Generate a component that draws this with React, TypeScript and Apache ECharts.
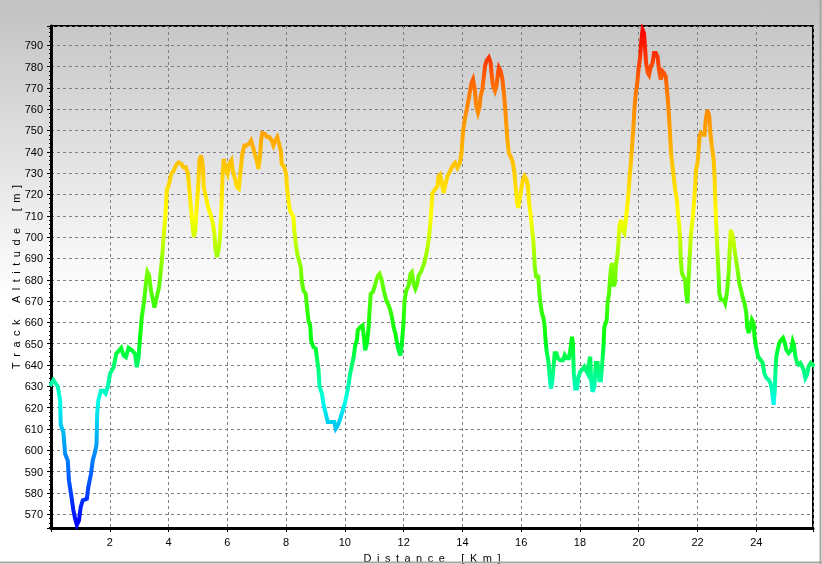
import React, { useEffect, useRef } from "react";
import * as echarts from "echarts";

const distanceKm = [
  0.0, 0.08, 0.23, 0.31, 0.33, 0.42, 0.48, 0.57, 0.61, 0.68, 0.76, 0.82, 0.88, 0.95, 1.01, 1.08, 1.22, 1.27, 1.36, 1.42,
  1.5, 1.55, 1.57, 1.61, 1.7, 1.78, 1.86, 1.93, 2.01, 2.13, 2.22, 2.32, 2.39, 2.47, 2.55, 2.64, 2.75, 2.86, 2.92, 2.98,
  3.03, 3.09, 3.17, 3.24, 3.28, 3.34, 3.4, 3.47, 3.52, 3.6, 3.68, 3.75, 3.8, 3.84, 3.89, 3.94, 4.02, 4.09, 4.17, 4.25,
  4.34, 4.43, 4.51, 4.59, 4.66, 4.72, 4.77, 4.82, 4.86, 4.91, 4.95, 5.0, 5.05, 5.11, 5.17, 5.2, 5.27, 5.36, 5.44, 5.51,
  5.56, 5.59, 5.65, 5.7, 5.75, 5.8, 5.84, 5.88, 5.93, 6.01, 6.07, 6.14, 6.19, 6.25, 6.33, 6.39, 6.43, 6.51, 6.58, 6.66,
  6.74, 6.81, 6.86, 6.92, 7.0, 7.06, 7.11, 7.15, 7.19, 7.28, 7.35, 7.43, 7.51, 7.57, 7.63, 7.7, 7.76, 7.82, 7.85, 7.94,
  8.0, 8.03, 8.08, 8.13, 8.19, 8.25, 8.28, 8.33, 8.38, 8.44, 8.5, 8.53, 8.59, 8.67, 8.7, 8.76, 8.82, 8.85, 8.93, 9.01,
  9.06, 9.1, 9.14, 9.22, 9.27, 9.35, 9.42, 9.53, 9.64, 9.69, 9.76, 9.84, 9.93, 10.01, 10.07, 10.13, 10.18, 10.24, 10.3, 10.35,
  10.41, 10.44, 10.52, 10.6, 10.65, 10.69, 10.75, 10.81, 10.84, 10.88, 10.95, 11.01, 11.07, 11.13, 11.18, 11.24, 11.3, 11.35, 11.41, 11.49,
  11.55, 11.6, 11.66, 11.72, 11.77, 11.83, 11.89, 11.94, 12.0, 12.03, 12.09, 12.17, 12.23, 12.28, 12.34, 12.4, 12.46, 12.51, 12.6, 12.68,
  12.74, 12.8, 12.85, 12.9, 12.95, 12.98, 13.07, 13.15, 13.19, 13.24, 13.3, 13.36, 13.41, 13.49, 13.58, 13.66, 13.75, 13.83, 13.91, 13.97,
  14.0, 14.03, 14.09, 14.15, 14.2, 14.25, 14.31, 14.36, 14.42, 14.47, 14.53, 14.59, 14.62, 14.68, 14.73, 14.77, 14.82, 14.9, 14.96, 14.99,
  15.04, 15.11, 15.16, 15.21, 15.24, 15.3, 15.36, 15.41, 15.45, 15.49, 15.53, 15.58, 15.66, 15.72, 15.77, 15.82, 15.86, 15.9, 15.95, 16.0,
  16.06, 16.11, 16.18, 16.23, 16.26, 16.3, 16.34, 16.37, 16.41, 16.44, 16.46, 16.51, 16.58, 16.62, 16.67, 16.71, 16.77, 16.8, 16.82, 16.86,
  16.92, 16.96, 17.01, 17.05, 17.1, 17.14, 17.2, 17.25, 17.33, 17.42, 17.48, 17.54, 17.62, 17.67, 17.73, 17.76, 17.79, 17.84, 17.9, 17.95,
  18.01, 18.07, 18.15, 18.2, 18.26, 18.32, 18.35, 18.38, 18.43, 18.49, 18.54, 18.6, 18.66, 18.71, 18.75, 18.8, 18.83, 18.91, 18.94, 18.99,
  19.02, 19.06, 19.1, 19.14, 19.19, 19.22, 19.27, 19.31, 19.34, 19.4, 19.44, 19.51, 19.56, 19.61, 19.65, 19.69, 19.74, 19.78, 19.82, 19.85,
  19.9, 19.95, 19.99, 20.05, 20.08, 20.13, 20.18, 20.22, 20.25, 20.31, 20.35, 20.41, 20.47, 20.52, 20.58, 20.64, 20.69, 20.75, 20.81, 20.86,
  20.92, 20.95, 20.99, 21.03, 21.07, 21.1, 21.15, 21.19, 21.24, 21.3, 21.33, 21.38, 21.41, 21.43, 21.47, 21.52, 21.58, 21.61, 21.66, 21.69,
  21.73, 21.77, 21.83, 21.88, 21.92, 21.95, 22.0, 22.03, 22.07, 22.11, 22.17, 22.24, 22.28, 22.34, 22.4, 22.44, 22.49, 22.55, 22.58, 22.6,
  22.63, 22.66, 22.69, 22.72, 22.74, 22.8, 22.89, 22.94, 23.0, 23.06, 23.09, 23.13, 23.17, 23.22, 23.26, 23.31, 23.38, 23.42, 23.48, 23.53,
  23.6, 23.66, 23.69, 23.74, 23.8, 23.85, 23.91, 23.94, 23.99, 24.06, 24.14, 24.22, 24.27, 24.34, 24.42, 24.48, 24.53, 24.59, 24.63, 24.65,
  24.68, 24.73, 24.78, 24.85, 24.91, 24.97, 25.02, 25.1, 25.19, 25.24, 25.28, 25.33, 25.39, 25.44, 25.5, 25.56, 25.61, 25.67, 25.73, 25.78,
  25.85, 25.93,
];

const altitudeM = [
  631, 633, 630, 623.5, 612, 608.6, 598.4, 595.3, 586, 579.7, 572, 568, 565, 567, 573.4, 576.6, 577.3, 582.8, 589, 595.3,
  599.2, 603, 617, 623.4, 628, 628, 626.6, 629.7, 636, 639, 645.3, 646.9, 648, 644.5, 643.7, 648, 647, 645.3, 639, 643.7,
  653, 662.5, 670.3, 679.7, 683.6, 682, 675, 670.3, 667, 672, 676.6, 686, 693.8, 701.6, 709.4, 722, 725, 729.7, 731, 733.6,
  735, 734.4, 732.8, 732.8, 729.7, 720.3, 712.5, 704.7, 700, 703, 712.5, 721.9, 736, 738.3, 732.8, 723.4, 718.8, 713.3, 710.2, 706.3,
  701.6, 695.3, 690.6, 693.8, 700, 714, 729.7, 736.7, 732.8, 729.7, 734.4, 736, 731, 728, 723.4, 722.7, 728, 739, 743, 743,
  743.8, 745.3, 743, 739.8, 736, 732, 737.5, 745.3, 748.8, 748.4, 746.9, 746.9, 745.3, 743, 745.3, 746.9, 743.8, 740.6, 734.4, 732.8,
  729.7, 723.4, 717.2, 712.5, 711, 709.4, 703, 696.9, 692.2, 689, 686, 679.7, 675, 673.4, 668.8, 661, 658.6, 651.6, 648.4, 647.7,
  642.2, 638.3, 629.7, 626.6, 621.9, 617.2, 613.3, 613.3, 613.3, 610.2, 611.7, 614.8, 618.8, 622.7, 626.6, 631.3, 636, 640, 643.8, 649.2,
  651.6, 656.3, 657.8, 658.6, 653, 646.9, 650, 657.8, 665.6, 673.4, 674.2, 676.6, 679.7, 682, 682.8, 680.5, 676.6, 673.4, 670.3, 668,
  665.6, 662.5, 657.8, 654.7, 650.8, 646.9, 644.5, 650, 661, 670.3, 675, 677.3, 682.8, 683.6, 678, 675.8, 678, 682, 684, 687,
  690, 694, 698.8, 705, 714.5, 720.7, 722.3, 723.9, 728.6, 729.3, 725.4, 720.7, 723.9, 728.6, 731, 733.3, 734.8, 732.5, 734.8, 739.5,
  745.8, 750.5, 756, 760, 763.8, 767.7, 772.4, 774, 769.3, 761.5, 758.3, 761.5, 766.2, 769.3, 775.6, 780.3, 782.6, 784.2, 781.8, 777.1,
  770.9, 768.5, 770.9, 777.1, 779.5, 777.9, 774, 767.7, 761.5, 753.6, 745.8, 739.5, 737.2, 734.8, 730.1, 722.3, 716, 713.7, 717.6, 722.3,
  727, 728.6, 727, 723.9, 717.6, 712.9, 708.2, 703.5, 698.8, 692.5, 686.2, 681.5, 681.5, 673.7, 667.4, 664.3, 661.2, 658, 653.3, 647,
  642.3, 636.1, 629, 631.4, 639.2, 645.5, 645.5, 643.2, 642.3, 642.3, 644.7, 643.2, 643.2, 647, 653.3, 650.2, 636.1, 629, 629, 634.5,
  636.9, 637.7, 639.2, 637.7, 636.1, 642.3, 643.9, 632.9, 627.5, 629.8, 641, 641, 632.9, 632.9, 639.2, 648.8, 658, 661, 669, 673.8,
  680, 686.3, 687.8, 676.9, 678.4, 686.3, 691, 697.2, 705, 708.1, 703.4, 701.9, 708.1, 714.4, 720.6, 728.4, 736.3, 744, 751.9, 759.7,
  767.5, 772.2, 778.4, 784.7, 791, 797.2, 795.6, 787.8, 781.6, 776.9, 776, 780, 781.6, 786.3, 786.3, 784.7, 778.4, 773.8, 777.7, 776.9,
  775.3, 770.6, 764.4, 756.6, 747.2, 739.4, 733.1, 728.4, 722.2, 717.5, 711.3, 705, 698.8, 689.4, 683.1, 681.6, 680, 673.8, 669, 678.4,
  689.4, 700.3, 708.1, 715.9, 723.8, 731.6, 734.7, 739.4, 747.2, 748.8, 748, 748, 755, 759.7, 756.6, 748.8, 742.5, 736.3, 728.4, 719,
  708.1, 698.8, 689.4, 681.6, 673.8, 670.6, 670.6, 669, 673.8, 683.1, 692.5, 703.4, 701.9, 698.8, 694, 689.4, 683.1, 678.4, 675.3, 672.2,
  669, 664.4, 658, 655, 658, 661.3, 659.7, 653.4, 648.8, 644, 642.5, 641, 636.3, 634, 633.1, 631.6, 628.4, 621.4, 628.4, 636.3,
  644, 647.2, 650.3, 651.9, 652.7, 650.3, 647.2, 645.6, 647.2, 651.1, 649.5, 644, 641, 640.2, 641, 639.4, 637.8, 633.9, 635.5, 639.4,
  641, 640,
];

// Axis ranges and tick steps
const xRange = [0, 25.93];
const yRange = [563.6, 799];
const xTickStep = 2;
const yTickStep = 10;

// Altitude colour ramp (evenly spaced from lowest to highest altitude)
const altitudeColorRange = [565, 797];
const altitudeColors = [
  "#0000ff", "#0078ff", "#00ffe8", "#00ff10", "#6cff00", "#ffff00", "#ffb800", "#ff7a00", "#ff0000",
];

const xAxisTitle = "Distance [Km]";
const yAxisTitle = "Track Altitude [m]";

const spaced = (s: string) =>
  s
    .split(" ")
    .map((w) => w.split("").join("\u2002"))
    .join("\u2002\u2002\u2002");

export default function App() {
  const ref = useRef<HTMLDivElement>(null);

  useEffect(() => {
    if (!ref.current) return;
    const chart = echarts.init(ref.current, null, { renderer: "svg" });
    const data = distanceKm.map((d, i) => [d, altitudeM[i]]);
    const font = "'Liberation Sans', Arial, sans-serif";

    chart.setOption({
      animation: false,
      textStyle: { fontFamily: font, color: "#000" },
      graphic: [
        {
          type: "rect",
          z: -100,
          silent: true,
          shape: { x: 0, y: 0, width: 822, height: 564 },
          style: {
            fill: new echarts.graphic.LinearGradient(0, 0, 0, 1, [
              { offset: 0, color: "#c2c2c2" },
              { offset: 0.53, color: "#ffffff" },
              { offset: 1, color: "#ffffff" },
            ]),
          },
        },
        {
          type: "line",
          z: 100,
          silent: true,
          shape: { x1: 820.5, y1: 0, x2: 820.5, y2: 564 },
          style: { stroke: "#a8a8a0", lineWidth: 2 },
        },
        {
          type: "line",
          z: 100,
          silent: true,
          shape: { x1: 0, y1: 562.5, x2: 822, y2: 562.5 },
          style: { stroke: "#a8a8a0", lineWidth: 2 },
        },
      ],
      grid: {
        left: 51,
        top: 26,
        width: 762,
        height: 502,
        show: true,
        containLabel: false,
        outerBoundsMode: "none",
        borderColor: "#000",
        borderWidth: 2,
        backgroundColor: "transparent",
      },
      xAxis: {
        type: "value",
        min: xRange[0],
        max: xRange[1],
        splitNumber: 13,
        minInterval: xTickStep,
        maxInterval: xTickStep,
        name: spaced(xAxisTitle),
        nameLocation: "middle",
        nameGap: 24,
        nameMoveOverlap: false,
        nameTextStyle: { color: "#000", fontSize: 11, fontFamily: font },
        axisLine: { show: true, onZero: false, lineStyle: { color: "#000", width: 3 } },
        axisTick: { show: true, length: 4, lineStyle: { color: "#000", width: 1 } },
        minorTick: { show: true, splitNumber: 4, length: 2, lineStyle: { color: "#000", width: 1 } },
        axisLabel: {
          color: "#000",
          fontSize: 11,
          fontFamily: font,
          margin: 8,
          showMinLabel: false,
          showMaxLabel: false,
        },
        splitLine: { show: true, lineStyle: { color: "#808080", width: 1, type: [3, 3] } },
      },
      yAxis: {
        type: "value",
        min: yRange[0],
        max: yRange[1],
        splitNumber: 24,
        minInterval: yTickStep,
        maxInterval: yTickStep,
        name: spaced(yAxisTitle),
        nameLocation: "middle",
        nameGap: 30,
        nameRotate: 90,
        nameMoveOverlap: false,
        nameTextStyle: { color: "#000", fontSize: 11, fontFamily: font },
        axisLine: { show: true, onZero: false, lineStyle: { color: "#000", width: 3 } },
        axisTick: { show: true, length: 4, lineStyle: { color: "#000", width: 1 } },
        minorTick: { show: true, splitNumber: 5, length: 2, lineStyle: { color: "#000", width: 1 } },
        axisLabel: {
          color: "#000",
          fontSize: 11,
          fontFamily: font,
          margin: 8,
          showMinLabel: false,
          showMaxLabel: false,
        },
        splitLine: { show: true, lineStyle: { color: "#808080", width: 1, type: [3, 3] } },
      },
      visualMap: {
        show: false,
        type: "continuous",
        seriesIndex: 0,
        dimension: 1,
        min: altitudeColorRange[0],
        max: altitudeColorRange[1],
        inRange: { color: altitudeColors },
      },
      series: [
        {
          type: "line",
          data,
          showSymbol: false,
          symbol: "none",
          lineStyle: { width: 4, cap: "square", join: "miter" },
          z: 5,
        },
      ],
    });

    return () => chart.dispose();
  }, []);

  return (
    <div
      ref={ref}
      style={{ position: "fixed", left: 0, top: 0, width: 822, height: 564 }}
    />
  );
}
